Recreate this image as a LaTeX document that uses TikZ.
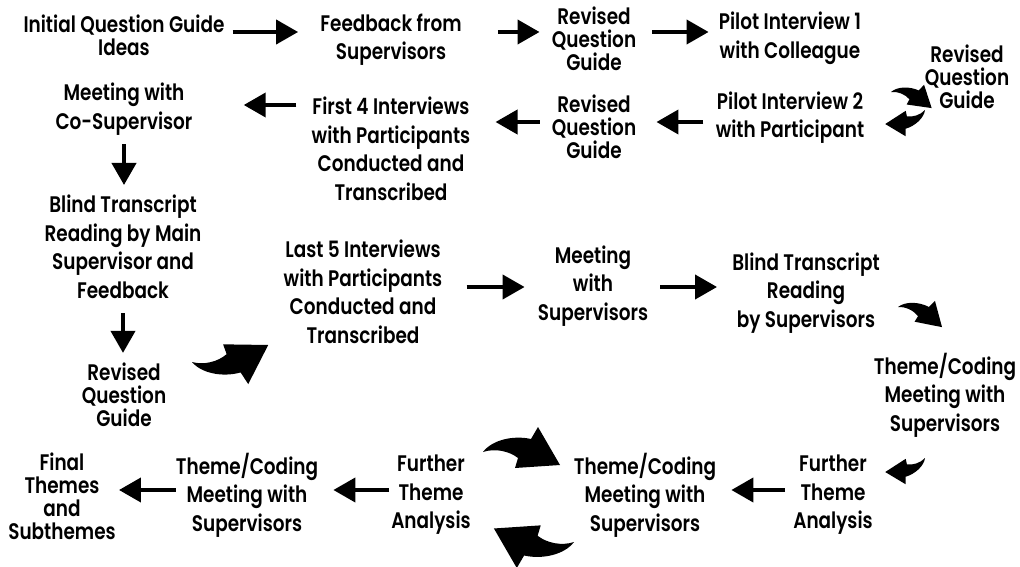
\documentclass[tikz,border=0pt]{standalone}
\usepackage{fontspec}
\setmainfont{Poppins}[UprightFont=* SemiBold, FakeStretch=0.82]
\usetikzlibrary{arrows.meta}

\tikzset{
  stage/.style={align=center, inner sep=0pt, font=\fontsize{16}{20.3}\selectfont},
  packed/.style={stage, font=\fontsize{16}{16.3}\selectfont},
  flow/.style={line width=1mm, -{Triangle[length=5.5mm,width=6mm]}},
  swoosh/.pic={
    \fill (0,0) .. controls (9,-12) and (30,-17) .. (48,-13) -- (55,-25) -- (77,13)
      -- (32,16) -- (35,6) .. controls (26,-1) and (12,-4) .. cycle;
  }
}

\begin{document}
\begin{tikzpicture}[x=0.25mm, y=-0.25mm]
  \useasboundingbox (0,0) rectangle (1020,567);

  % top rows
  \node[packed] (ideas) at (124,35) {Initial Question Guide\\Ideas};
  \node[stage] (feedback) at (391,39.5) {Feedback from\\Supervisors};
  \node[packed] (revA) at (594,38.5) {Revised\\Question\\Guide};
  \node[stage] (pilotA) at (790,38.5) {Pilot Interview 1\\with Colleague};
  \node[packed] (revB) at (967,77) {Revised\\Question\\Guide};
  \node[stage] (pilotB) at (790,117.5) {Pilot Interview 2\\with Participant};
  \node[packed] (revC) at (594,127) {Revised\\Question\\Guide};
  \node[stage] (firstfour) at (391,149) {First 4 Interviews\\with Participants\\Conducted and\\Transcribed};
  \node[stage] (cosup) at (124,109) {Meeting with\\Co-Supervisor};

  % left column and middle row
  \node[stage] (mainread) at (123,247) {Blind Transcript\\Reading by Main\\Supervisor and\\Feedback};
  \node[packed] (revD) at (124,395) {Revised\\Question\\Guide};
  \node[stage] (lastfive) at (363,292) {Last 5 Interviews\\with Participants\\Conducted and\\Transcribed};
  \node[stage] (meetsup) at (593,286) {Meeting\\with\\Supervisors};
  \node[stage] (blindread) at (806,293) {Blind Transcript\\Reading\\by Supervisors};
  \node[stage] (codingA) at (945,395) {Theme/Coding\\Meeting with\\Supervisors};

  % bottom row
  \node[stage] (furtherA) at (833,495) {Further\\Theme\\Analysis};
  \node[stage] (codingB) at (645,495) {Theme/Coding\\Meeting with\\Supervisors};
  \node[stage] (furtherB) at (431,495) {Further\\Theme\\Analysis};
  \node[stage] (codingC) at (247,495) {Theme/Coding\\Meeting with\\Supervisors};
  \node[packed] (final) at (62,496) {Final\\Themes\\and\\Subthemes};

  \coordinate (r1) at (0,32);
  \coordinate (r2) at (0,122);
  \coordinate (r2b) at (0,105);
  \coordinate (r3) at (0,287);
  \coordinate (r4) at (0,490);

  % straight arrows
  \foreach \a/\b/\r/\s/\e in {ideas/feedback/r1/2/5.5, feedback/revA/r1/9/3,
      revA/pilotA/r1/4/2.5, lastfive/meetsup/r3/6/3.25, meetsup/blindread/r3/3/3.75}
    \draw[flow, shorten <=\s mm, shorten >=\e mm] (\a.east |- \r) -- (\b.west |- \r);
  \foreach \a/\b/\r/\s/\e in {pilotB/revC/r2/3/5, revC/firstfour/r2/3/6.25,
      firstfour/cosup/r2b/3.75/12.75, furtherA/codingB/r4/2/3.75,
      furtherB/codingC/r4/0.5/3.75, codingC/final/r4/0/0.75}
    \draw[flow, shorten <=\s mm, shorten >=\e mm] (\a.west |- \r) -- (\b.east |- \r);
  \draw[flow, shorten <=2.25mm, shorten >=2.5mm] (cosup.south) -- (cosup.south |- mainread.north);
  \draw[flow, shorten <=3.5mm, shorten >=2.5mm] (mainread.south) -- (mainread.south |- revD.north);

  % curved arrows
  \pic[rotate=-12, scale=0.56] at (891,92) {swoosh};
  \pic[rotate=-151, scale=0.54] at (925,110) {swoosh};
  \pic[rotate=3, yscale=-1] at (192,362) {swoosh};
  \pic[rotate=-15, scale=0.62] at (898,307) {swoosh};
  \pic[rotate=-151, scale=0.54] at (925,458) {swoosh};
  \pic at (483,452) {swoosh};
  \pic[rotate=180, scale=1.04] at (574,542) {swoosh};
\end{tikzpicture}
\end{document}
